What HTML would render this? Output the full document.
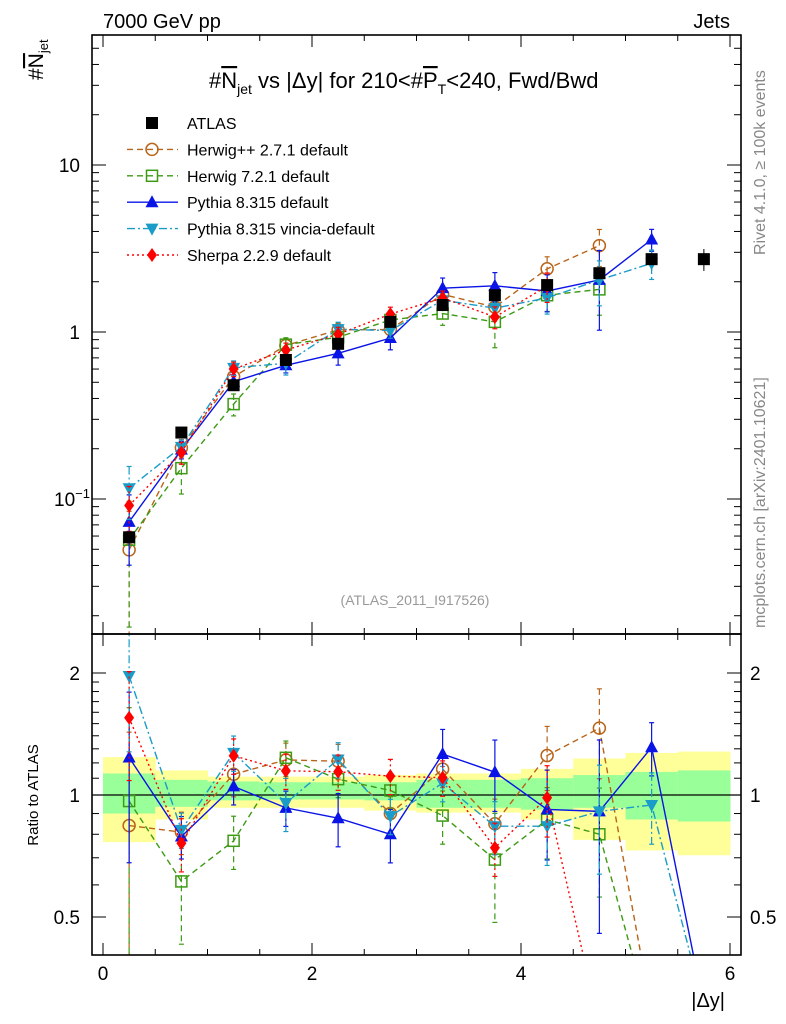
<!DOCTYPE html>
<html><head><meta charset="utf-8"><style>
body{margin:0;background:#fff}
svg{display:block;font-family:"Liberation Sans",sans-serif}
.ov{text-decoration:overline}
</style></head><body>
<svg id="c" width="786" height="1024" viewBox="0 0 786 1024"></svg>
<script>
const xs=[0.25,0.75,1.25,1.75,2.25,2.75,3.25,3.75,4.25,4.75,5.25,5.75];
const atlas=[0.059,0.25,0.48,0.68,0.85,1.15,1.45,1.66,1.91,2.25,2.73,2.73];
const atlasErr=[0.12,0.08,0.07,0.07,0.07,0.07,0.08,0.08,0.09,0.12,0.15,0.15];
const bandTotUp=[1.24,1.15,1.11,1.11,1.11,1.12,1.13,1.13,1.16,1.23,1.27,1.28];
const bandTotDn=[0.765,0.87,0.93,0.93,0.93,0.915,0.905,0.905,0.87,0.775,0.73,0.71];
const bandStatUp=[1.13,1.09,1.08,1.075,1.075,1.075,1.09,1.09,1.10,1.12,1.14,1.15];
const bandStatDn=[0.90,0.935,0.97,0.975,0.975,0.97,0.93,0.93,0.92,0.93,0.87,0.86];
const herwigpp=[0.0496,0.2025,0.54,0.83,1.03,1.035,1.68,1.41,2.39,3.29];
const herwigppErr=[0.7,0.12,0.12,0.1,0.1,0.1,0.1,0.15,0.18,0.25];
const herwigppTail=0.29;
const herwig7=[0.057,0.153,0.37,0.84,0.93,1.18,1.29,1.15,1.66,1.80];
const herwig7Err=[0.7,0.3,0.15,0.1,0.1,0.1,0.15,0.3,0.2,0.3];
const herwig7Tail=0.27;
const pythia=[0.073,0.1975,0.504,0.632,0.745,0.92,1.83,1.89,1.76,2.05,3.58];
const pythiaErr=[0.45,0.12,0.1,0.1,0.15,0.15,0.15,0.2,0.25,0.5,0.15];
const pythiaTail=0.3;
const vincia=[0.116,0.205,0.61,0.65,1.04,1.02,1.55,1.39,1.60,2.05,2.58];
const vinciaErr=[0.35,0.1,0.1,0.15,0.1,0.1,0.1,0.15,0.2,0.3,0.2];
const vinciaTail=0.3;
const sherpa=[0.0915,0.19,0.60,0.78,0.97,1.28,1.60,1.23,1.88];
const sherpaErr=[0.3,0.15,0.1,0.1,0.1,0.1,0.1,0.15,0.2];
const sherpaTail=0.27;
const mainTicks=[[10,"10"],[1,"1"]];
const ratioTicks=[[2,"2"],[1,"1"],[0.5,"0.5"]];
const xTicks=[0,2,4,6];

const NS="http://www.w3.org/2000/svg";const svg=document.getElementById('c');
function el(t,a,p){const e=document.createElementNS(NS,t);for(const k in a)e.setAttribute(k,a[k]);(p||svg).appendChild(e);return e;}
const L=92,R=741,T=35,M=634,B=955;
const X=v=>103+v*104.5;
const Y=v=>332-167*Math.log10(v);
const YR=r=>795-122*Math.log2(r);
const defs=el('defs',{});
const c1=el('clipPath',{id:'cm'},defs);el('rect',{x:L,y:T,width:R-L,height:M-T},c1);
const c2=el('clipPath',{id:'cr'},defs);el('rect',{x:L,y:M,width:R-L,height:B-M},c2);
const gm=el('g',{'clip-path':'url(#cm)'});
const gr=el('g',{'clip-path':'url(#cr)'});
for(let i=0;i<xs.length;i++){
  const x0=X(xs[i]-0.25),w=104.5/2;
  const b1=el('rect',{x:x0,y:YR(bandTotUp[i]),width:w+0.5,height:YR(bandTotDn[i])-YR(bandTotUp[i]),fill:'#ffff99'},gr);
  
  const b2=el('rect',{x:x0,y:YR(bandStatUp[i]),width:w+0.5,height:YR(bandStatDn[i])-YR(bandStatUp[i]),fill:'#99ff99'},gr);
  
}
el('line',{x1:L,x2:R,y1:YR(1),y2:YR(1),stroke:'#000','stroke-width':1.3},gr);
function marker(g,type,x,y,col){
  let m;
  if(type=='sq')m=el('rect',{x:x-6,y:y-6,width:12,height:12,fill:'#000'},g);
  else if(type=='osq')m=el('rect',{x:x-5.5,y:y-5.5,width:11,height:11,fill:'#fff','fill-opacity':0,stroke:col,'stroke-width':1.5},g);
  else if(type=='oc')m=el('circle',{cx:x,cy:y,r:6,fill:'none',stroke:col,'stroke-width':1.5},g);
  else if(type=='tu')m=el('polygon',{points:`${x},${y-7} ${x-6.5},${y+5} ${x+6.5},${y+5}`,fill:col},g);
  else if(type=='td')m=el('polygon',{points:`${x},${y+7} ${x-6.5},${y-5} ${x+6.5},${y-5}`,fill:col},g);
  else m=el('polygon',{points:`${x},${y-7} ${x-5},${y} ${x},${y+7} ${x+5},${y}`,fill:col},g);
  return m;
}
const series=[
 {name:'herwigpp',v:herwigpp,e:herwigppErr,tail:herwigppTail,col:'#b8641a',dash:'6,4',m:'oc'},
 {name:'herwig7',v:herwig7,e:herwig7Err,tail:herwig7Tail,col:'#3c9a14',dash:'6,4',m:'osq'},
 {name:'pythia',v:pythia,e:pythiaErr,tail:pythiaTail,col:'#0a14e6',dash:'',m:'tu'},
 {name:'vincia',v:vincia,e:vinciaErr,tail:vinciaTail,col:'#1a9cc8',dash:'8,3,2,3',m:'td'},
 {name:'sherpa',v:sherpa,e:sherpaErr,tail:sherpaTail,col:'#ff0000',dash:'2,3',m:'di'}];
for(let i=0;i<xs.length;i++){
  const x=X(xs[i]);
  el('line',{x1:x,x2:x,y1:Y(atlas[i]*(1+atlasErr[i])),y2:Y(atlas[i]*(1-atlasErr[i])),stroke:'#000'},gm);
}
for(const s of series){
  for(const [g,isR] of [[gm,false],[gr,true]]){
    const pts=s.v.map((v,i)=>[X(xs[i]),isR?YR(v/atlas[i]):Y(v)]);
    if(isR)pts.push([X(xs[s.v.length]),YR(s.tail)]);
    const pl=el('polyline',{points:pts.map(p=>p.join(',')).join(' '),fill:'none',stroke:s.col,'stroke-width':1.4,'stroke-dasharray':s.dash},g);
    
    s.v.forEach((v,i)=>{
      const x=X(xs[i]);const f=isR?(u=>YR(u/atlas[i])):Y;
      const up=f(v*(1+s.e[i])),dn=f(Math.max(v*(1-s.e[i]),1e-4));
      el('line',{x1:x,x2:x,y1:up,y2:dn,stroke:s.col,'stroke-width':1.2,'stroke-dasharray':s.dash},g);
      el('line',{x1:x-2.5,x2:x+2.5,y1:up,y2:up,stroke:s.col,'stroke-width':1.2},g);
      el('line',{x1:x-2.5,x2:x+2.5,y1:dn,y2:dn,stroke:s.col,'stroke-width':1.2},g);
      const mk=marker(g,s.m,x,isR?YR(v/atlas[i]):Y(v),s.col);
      
    });
  }
}
for(let i=0;i<xs.length;i++){
  const mk=marker(gm,'sq',X(xs[i]),Y(atlas[i]),'#000');
  
}
el('rect',{x:L,y:T,width:R-L,height:M-T,fill:'none',stroke:'#000','stroke-width':1.6});
el('rect',{x:L,y:M,width:R-L,height:B-M,fill:'none',stroke:'#000','stroke-width':1.6});
for(let v=0;v<=6.01;v+=0.5){
  const x=X(v),len=(Math.abs(v%2)<0.01)?12:6;
  for(const [y0,y1] of [[B,B-len],[M,M-len],[T,T+len],[M,M+len]])el('line',{x1:x,x2:x,y1:y0,y2:y1,stroke:'#000'});
}
xTicks.forEach(v=>{const t=el('text',{x:X(v),y:980,'font-size':19,'text-anchor':'middle'});t.textContent=v;});
for(let d=-2;d<=1;d++)for(let k=1;k<=9;k++){
  const v=k*Math.pow(10,d),y=Y(v);if(y<T||y>M)continue;const len=k==1?14:7;
  el('line',{x1:L,x2:L+len,y1:y,y2:y,stroke:'#000'});el('line',{x1:R,x2:R-len,y1:y,y2:y,stroke:'#000'});
}
mainTicks.forEach(([v,s])=>{const t=el('text',{x:80,y:Y(v)+7,'font-size':19,'text-anchor':'end'});t.textContent=s;});
{const t=el('text',{x:54,y:Y(0.1)+7,'font-size':19});t.textContent='10';const s=el('tspan',{dy:-8,'font-size':13},t);s.textContent='−1';}
for(let r=0.4;r<=2.55;r+=0.1){const y=YR(r);if(y<M||y>B)continue;
  const maj=[0.5,1,2].some(m=>Math.abs(m-r)<0.01);const len=maj?14:7;
  el('line',{x1:L,x2:L+len,y1:y,y2:y,stroke:'#000'});el('line',{x1:R,x2:R-len,y1:y,y2:y,stroke:'#000'});
  if(r>=1.95)r+=0.4;
}
ratioTicks.forEach(([v,s])=>{
  const t=el('text',{x:80,y:YR(v)+7,'font-size':19,'text-anchor':'end'});t.textContent=s;
  const t2=el('text',{x:750,y:YR(v)+7,'font-size':19});t2.textContent=s;
});
function txt(x,y,s,a,name){const t=el('text',Object.assign({x,y},a));t.textContent=s;return t;}
txt(103,28,'7000 GeV pp',{'font-size':20},'energy-label');
txt(730,28,'Jets',{'font-size':20,'text-anchor':'end'},'process-label');
txt(725,1007,'|Δy|',{'font-size':20,'text-anchor':'end'},'x-axis-title');
txt(0,0,'Ratio to ATLAS',{'font-size':15,transform:'translate(38,795) rotate(-90)','text-anchor':'middle'},'ratio-axis-title');
{const t=txt(0,0,'#',{'font-size':21,transform:'translate(43,80) rotate(-90)'},'y-axis-title');
 const n=el('tspan',{class:'ov'},t);n.textContent='N';const s=el('tspan',{dy:5,'font-size':13},t);s.textContent='jet';}
{const t=txt(209,88,'#',{'font-size':22},'plot-title');
 const n=el('tspan',{class:'ov'},t);n.textContent='N';
 const s=el('tspan',{dy:6,'font-size':14},t);s.textContent='jet';
 const s2=el('tspan',{dy:-6},t);s2.textContent=' vs |Δy| for 210<#';
 const p=el('tspan',{class:'ov'},t);p.textContent='P';
 const s3=el('tspan',{dy:6,'font-size':14},t);s3.textContent='T';
 const s4=el('tspan',{dy:-6},t);s4.textContent='<240, Fwd/Bwd';}
txt(415,605,'(ATLAS_2011_I917526)',{'font-size':14,fill:'#999','text-anchor':'middle'},'analysis-label');
txt(0,0,'Rivet 4.1.0, ≥ 100k events',{'font-size':16,fill:'#888',transform:'translate(765,255) rotate(-90)'},'rivet-label');
txt(0,0,'mcplots.cern.ch [arXiv:2401.10621]',{'font-size':16,fill:'#888',transform:'translate(765,628) rotate(-90)'},'mcplots-label');
const leg=[['ATLAS','sq','#000',''],['Herwig++ 2.7.1 default','oc','#b8641a','6,4'],['Herwig 7.2.1 default','osq','#3c9a14','6,4'],['Pythia 8.315 default','tu','#0a14e6',''],['Pythia 8.315 vincia-default','td','#1a9cc8','8,3,2,3'],['Sherpa 2.2.9 default','di','#ff0000','2,3']];
leg.forEach((l,i)=>{const y=123+i*26.4;const g=el('g',{});
  if(i>0)el('line',{x1:127,x2:178,y1:y,y2:y,stroke:l[2],'stroke-width':1.4,'stroke-dasharray':l[3]},g);
  marker(g,l[1],152,y,l[2]);
  const t=el('text',{x:187,y:y+6,'font-size':16},g);t.textContent=l[0];});
</script>
</body></html>
